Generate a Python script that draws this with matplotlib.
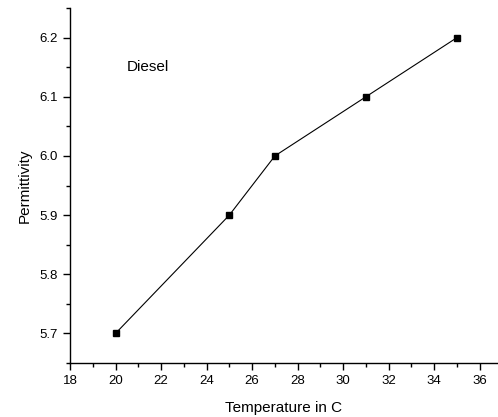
import matplotlib
matplotlib.use('Agg')
import matplotlib.pyplot as plt
from matplotlib.ticker import MultipleLocator

temperature = [20, 25, 27, 31, 35]
permittivity = [5.7, 5.9, 6.0, 6.1, 6.2]

plt.rcParams['font.family'] = ['Liberation Sans', 'DejaVu Sans']

fig = plt.figure(figsize=(4.98, 4.17), dpi=100)
ax = fig.add_axes([70 / 498, 54 / 417, 428 / 498, 355 / 417])

ax.plot(temperature, permittivity, color='black', linewidth=0.8,
        marker='s', markersize=5)

ax.set_xlim(18, 36.8)
ax.set_ylim(5.65, 6.25)
ax.xaxis.set_major_locator(MultipleLocator(2))
ax.xaxis.set_minor_locator(MultipleLocator(1))
ax.yaxis.set_major_locator(MultipleLocator(0.1))
ax.yaxis.set_minor_locator(MultipleLocator(0.05))
ax.yaxis.set_major_formatter(matplotlib.ticker.FormatStrFormatter('%.1f'))

for side in ['top', 'right']:
    ax.spines[side].set_visible(False)
for side in ['left', 'bottom']:
    ax.spines[side].set_linewidth(1.0)

ax.tick_params(which='major', direction='out', length=5, width=1, labelsize=9.5)
ax.tick_params(which='minor', direction='out', length=3, width=1)

ax.set_xlabel('Temperature in C', fontsize=11, labelpad=10)
ax.set_ylabel('Permittivity', fontsize=11, labelpad=6)
ax.text(20.5, 6.15, 'Diesel', fontsize=11, va='center')

fig.savefig('out.png', dpi=100)
